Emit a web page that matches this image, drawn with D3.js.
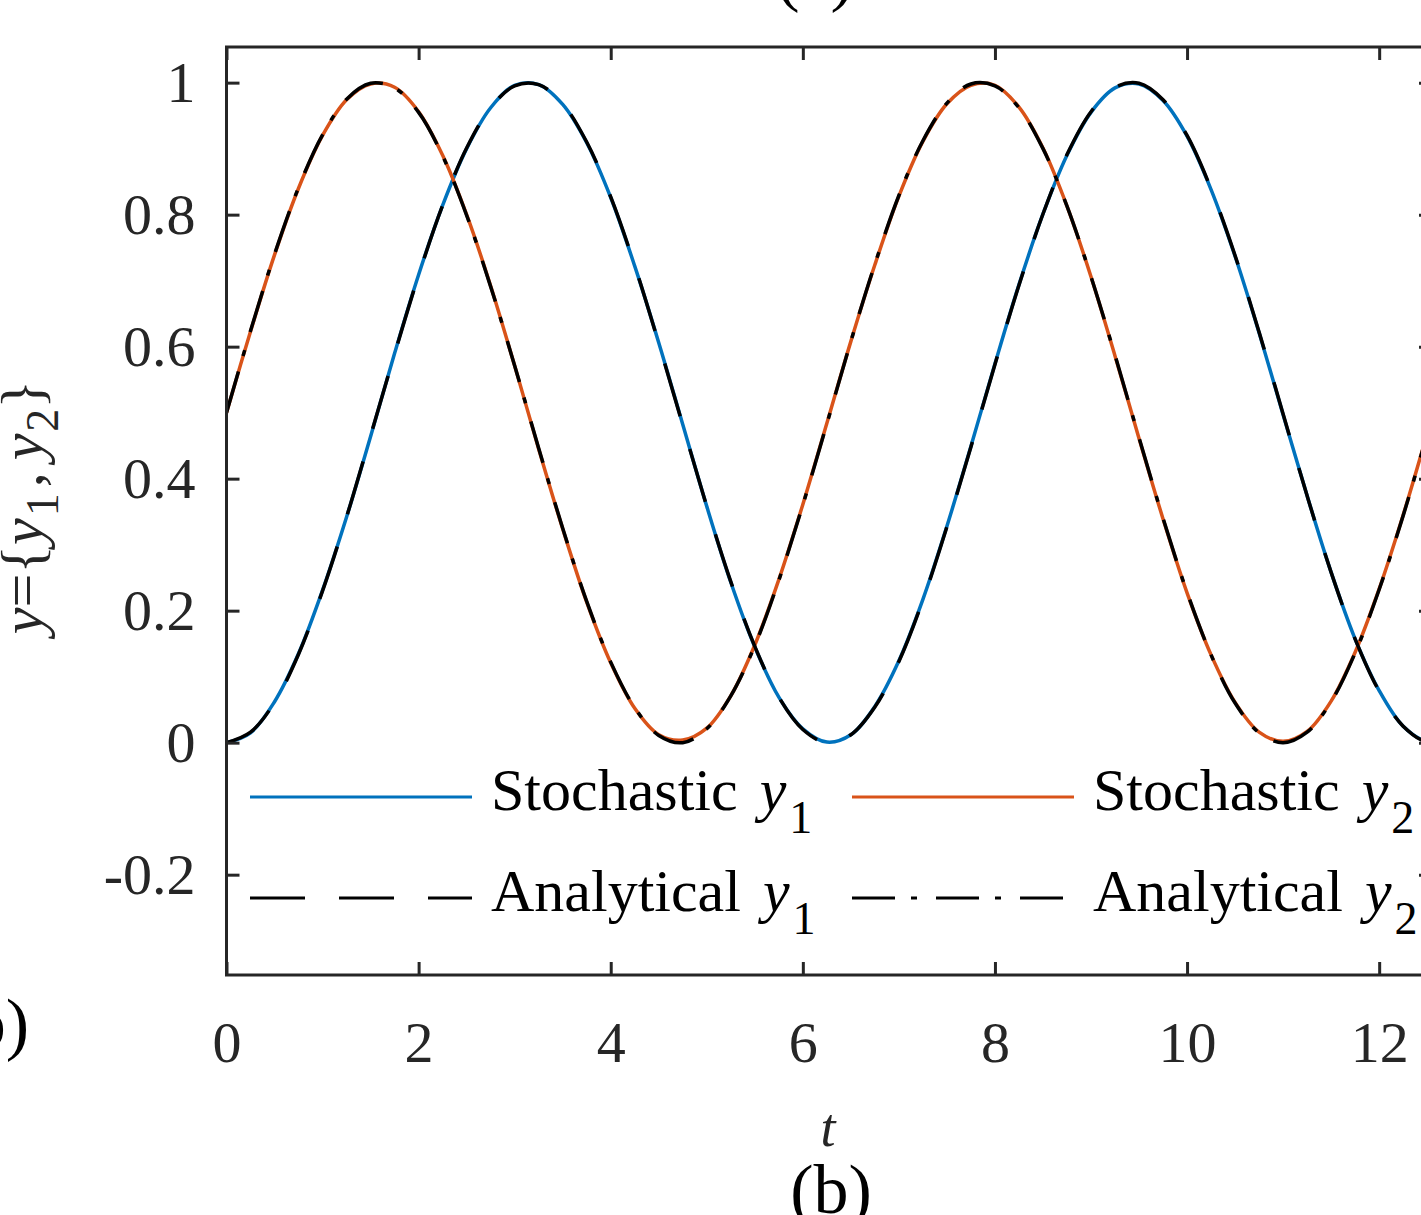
<!DOCTYPE html>
<html>
<head>
<meta charset="utf-8">
<script src="https://cdn.jsdelivr.net/npm/d3@7"></script>
<style>
  body { margin: 0; background: #fff; }
  svg { display: block; font-family: "Liberation Serif", "Times New Roman", serif; }
</style>
</head>
<body>
<svg id="chart" width="1421" height="1215"></svg>
<script>
// t samples (every 0.25)
var tValues = [0, 0.25, 0.5, 0.75, 1, 1.25, 1.5, 1.75, 2, 2.25, 2.5, 2.75, 3, 3.25, 3.5, 3.75,
    4, 4.25, 4.5, 4.75, 5, 5.25, 5.5, 5.75, 6, 6.25, 6.5, 6.75, 7, 7.25, 7.5, 7.75,
    8, 8.25, 8.5, 8.75, 9, 9.25, 9.5, 9.75, 10, 10.25, 10.5, 10.75, 11, 11.25, 11.5, 11.75,
    12, 12.25, 12.5, 12.75];

var analyticalY1 = [0, 0.016, 0.061, 0.134, 0.230, 0.342, 0.465, 0.589, 0.708, 0.814, 0.901, 0.962,
    0.995, 0.997, 0.968, 0.910, 0.827, 0.723, 0.605, 0.481, 0.358, 0.244, 0.146, 0.069,
    0.020, 0.000, 0.012, 0.054, 0.123, 0.216, 0.327, 0.448, 0.573, 0.693, 0.801, 0.891,
    0.956, 0.993, 0.999, 0.974, 0.920, 0.839, 0.738, 0.622, 0.498, 0.374, 0.258, 0.157,
    0.078, 0.025, 0.001, 0.008];

var analyticalY2 = [0.500, 0.624, 0.740, 0.841, 0.921, 0.975, 0.999, 0.992, 0.955, 0.889, 0.799, 0.691,
    0.571, 0.446, 0.325, 0.214, 0.122, 0.053, 0.011, 0.000, 0.021, 0.071, 0.147, 0.246,
    0.360, 0.483, 0.608, 0.725, 0.829, 0.912, 0.969, 0.998, 0.995, 0.962, 0.900, 0.813,
    0.706, 0.587, 0.462, 0.340, 0.228, 0.133, 0.060, 0.015, 0.000, 0.016, 0.062, 0.136,
    0.232, 0.344, 0.467, 0.591];

var stochasticY1 = [0, 0.015, 0.062, 0.135, 0.231, 0.342, 0.464, 0.590, 0.709, 0.814, 0.900, 0.962,
    0.996, 0.997, 0.967, 0.909, 0.826, 0.722, 0.606, 0.482, 0.358, 0.243, 0.145, 0.069,
    0.021, 0.001, 0.012, 0.055, 0.124, 0.217, 0.328, 0.449, 0.574, 0.694, 0.801, 0.890,
    0.955, 0.992, 0.998, 0.973, 0.919, 0.838, 0.737, 0.621, 0.497, 0.374, 0.258, 0.157,
    0.079, 0.025, 0.002, 0.009];

var stochasticY2 = [0.500, 0.623, 0.739, 0.840, 0.920, 0.974, 0.998, 0.993, 0.956, 0.890, 0.800, 0.692,
    0.571, 0.445, 0.324, 0.213, 0.121, 0.052, 0.012, 0.004, 0.022, 0.071, 0.148, 0.247,
    0.361, 0.484, 0.608, 0.724, 0.828, 0.911, 0.968, 0.996, 0.996, 0.963, 0.901, 0.813,
    0.706, 0.586, 0.461, 0.339, 0.227, 0.133, 0.061, 0.016, 0.002, 0.017, 0.063, 0.137,
    0.233, 0.345, 0.468, 0.592];

var xTicks = [0, 2, 4, 6, 8, 10, 12];
var yTicks = [-0.2, 0, 0.2, 0.4, 0.6, 0.8, 1];
var yTickLabels = ["-0.2", "0", "0.2", "0.4", "0.6", "0.8", "1"];

var svg = d3.select("#chart");
var plotLeft = 226.5, plotTop = 47, plotBottom = 975, plotRight = 1432;
var axisColor = "#262626";

var x = d3.scaleLinear().domain([0, 12.55]).range([plotLeft, plotRight]);
var y = d3.scaleLinear().domain([-0.352, 1.054]).range([plotBottom, plotTop]);

svg.append("clipPath").attr("id", "plotclip")
    .append("rect")
    .attr("x", plotLeft).attr("y", plotTop)
    .attr("width", plotRight - plotLeft).attr("height", plotBottom - plotTop);

function series(vals) {
    return tValues.map(function (t, i) { return {t: t, v: vals[i]}; });
}

var line = d3.line()
    .x(function (d) { return x(d.t); })
    .y(function (d) { return y(d.v); })
    .curve(d3.curveCatmullRom.alpha(0.5));

var curves = [
    {data: stochasticY1, color: "#0072BD", dash: null},
    {data: stochasticY2, color: "#D95319", dash: null},
    {data: analyticalY1, color: "#000", dash: "55,34"},
    {data: analyticalY2, color: "#000", dash: "43,16,6,19"}
];

var plot = svg.append("g").attr("clip-path", "url(#plotclip)");
curves.forEach(function (c) {
    plot.append("path")
        .datum(series(c.data))
        .attr("fill", "none")
        .attr("stroke", c.color)
        .attr("stroke-width", 3.5)
        .attr("stroke-dasharray", c.dash)
        .attr("d", line);
});

// axes, ticks pointing inwards on all four sides
var tickLen = 13;
svg.append("g").attr("transform", "translate(0," + plotBottom + ")")
    .call(d3.axisBottom(x).tickValues(xTicks).tickSize(-tickLen).tickSizeOuter(0))
    .call(function (g) {
        g.select(".domain").remove();
        g.selectAll("line").attr("stroke", axisColor).attr("stroke-width", 3);
        g.selectAll("text").attr("font-family", "Liberation Serif").attr("font-size", 58)
            .attr("fill", axisColor).attr("dy", "0.71em").attr("y", 46);
    });
svg.append("g").attr("transform", "translate(0," + plotTop + ")")
    .call(d3.axisTop(x).tickValues(xTicks).tickSize(-tickLen).tickFormat("").tickSizeOuter(0))
    .call(function (g) {
        g.select(".domain").remove();
        g.selectAll("line").attr("stroke", axisColor).attr("stroke-width", 3);
    });
svg.append("g").attr("transform", "translate(" + plotLeft + ",0)")
    .call(d3.axisLeft(y).tickValues(yTicks).tickSize(-tickLen).tickSizeOuter(0)
        .tickFormat(function (d, i) { return yTickLabels[i]; }))
    .call(function (g) {
        g.select(".domain").remove();
        g.selectAll("line").attr("stroke", axisColor).attr("stroke-width", 3);
        g.selectAll("text").attr("font-family", "Liberation Serif").attr("font-size", 58)
            .attr("fill", axisColor).attr("x", -31).attr("dy", "0.33em");
    });
svg.append("g").attr("transform", "translate(" + plotRight + ",0)")
    .call(d3.axisRight(y).tickValues(yTicks).tickSize(-tickLen).tickFormat("").tickSizeOuter(0))
    .call(function (g) {
        g.select(".domain").remove();
        g.selectAll("line").attr("stroke", axisColor).attr("stroke-width", 3);
    });

svg.append("rect")
    .attr("x", plotLeft).attr("y", plotTop)
    .attr("width", plotRight - plotLeft).attr("height", plotBottom - plotTop)
    .attr("fill", "none").attr("stroke", axisColor).attr("stroke-width", 3);

// legend
var legendItems = [
    {label: "Stochastic", sub: "1", color: "#0072BD", dash: null, col: 0, row: 0},
    {label: "Stochastic", sub: "2", color: "#D95319", dash: null, col: 1, row: 0},
    {label: "Analytical", sub: "1", color: "#000", dash: "55,34", col: 0, row: 1},
    {label: "Analytical", sub: "2", color: "#000", dash: "43,16,6,19", col: 1, row: 1}
];
var colX = [250, 852], rowY = [797, 898];

legendItems.forEach(function (d) {
    var lx = colX[d.col], ly = rowY[d.row];
    svg.append("line")
        .attr("x1", lx).attr("x2", lx + 222)
        .attr("y1", ly).attr("y2", ly)
        .attr("stroke", d.color).attr("stroke-width", 3)
        .attr("stroke-dasharray", d.dash);
    var t = svg.append("text")
        .attr("x", lx + 241).attr("y", ly + 13)
        .attr("font-size", 60).attr("fill", "#000");
    t.append("tspan").text(d.label);
    t.append("tspan").attr("dx", 22).attr("font-style", "italic").text("y");
    t.append("tspan").attr("font-size", 46).attr("dx", 3).attr("dy", 23).text(d.sub);
});

// y axis label
var yl = svg.append("text")
    .attr("transform", "translate(42,507) rotate(-90)")
    .attr("text-anchor", "middle")
    .attr("font-size", 60).attr("fill", axisColor);
yl.append("tspan").attr("font-style", "italic").text("y");
yl.append("tspan").text("={");
yl.append("tspan").attr("font-style", "italic").text("y");
yl.append("tspan").attr("font-size", 46).attr("dx", 2).attr("dy", 16).text("1");
yl.append("tspan").attr("dx", 6).attr("dy", -16).text(",");
yl.append("tspan").attr("dx", 12).attr("font-style", "italic").text("y");
yl.append("tspan").attr("font-size", 46).attr("dx", 2).attr("dy", 16).text("2");
yl.append("tspan").attr("dy", -16).text("}");

// x axis label
svg.append("text")
    .attr("x", 828).attr("y", 1146)
    .attr("text-anchor", "middle")
    .attr("font-size", 54).attr("font-style", "italic").attr("fill", axisColor)
    .text("t");

// panel captions
svg.append("text").attr("x", 831).attr("y", 1213).attr("text-anchor", "middle")
    .attr("font-size", 70).attr("fill", "#000").text("(b)");
svg.append("text").attr("x", 815).attr("y", -2).attr("text-anchor", "middle")
    .attr("font-size", 70).attr("fill", "#000").text("(a)");
svg.append("text").attr("x", 29).attr("y", 1047).attr("text-anchor", "end")
    .attr("font-size", 70).attr("fill", "#000").text("(b)");
</script>
</body>
</html>
